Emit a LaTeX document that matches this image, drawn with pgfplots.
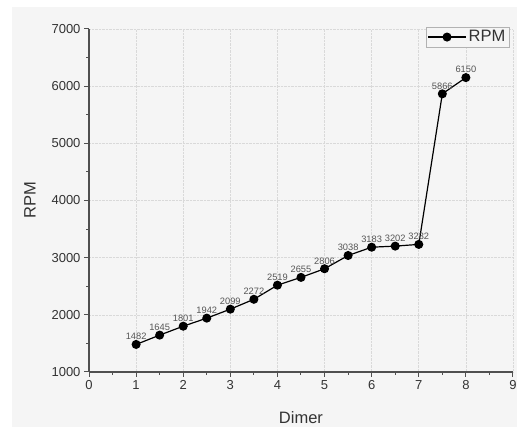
\documentclass[border=0pt]{standalone}
\usepackage{pgfplots}
\pgfplotsset{compat=1.18}
\usepackage{fontspec}
\setmainfont{Liberation Sans}
\definecolor{bg}{HTML}{F5F5F5}
\definecolor{axcol}{HTML}{505050}
\definecolor{txt}{HTML}{333333}
\definecolor{lbl}{HTML}{555555}
\begin{document}
\begin{tikzpicture}[x=1pt,y=1pt]
\useasboundingbox (0,0) rectangle (517,427);
\clip (0,0) rectangle (517,427);
\fill[white] (0,0) rectangle (517,427);
\fill[bg] (12,0) rectangle (517,420);
\begin{axis}[
  at={(89pt,55pt)}, anchor=south west,
  scale only axis, width=424pt, height=343pt,
  xmin=0, xmax=9, ymin=1000, ymax=7000,
  xtick={0,...,9}, ytick={1000,2000,...,7000},
  minor tick num=1,
  axis lines*=left,
  axis line style={draw=axcol, line width=1.1pt},
  tick style={draw=axcol, line width=1pt},
  tick align=outside,
  major tick length=5pt, minor tick length=3pt,
  grid=major,
  major grid style={densely dotted, gray!30, line width=0.6pt},
  ticklabel style={font=\fontsize{13}{13}\selectfont, text=txt},
  /pgf/number format/assume math mode=true,
  /pgf/number format/set thousands separator={},
  xlabel={Dimer}, ylabel={RPM},
  label style={font=\fontsize{16.5}{16.5}\selectfont, text=txt},
  xlabel style={at={(axis description cs:0.5,-0.1327)}, anchor=center},
  ylabel style={at={(axis description cs:-0.139,0.5)}, anchor=center, rotate=0},
  legend style={at={(rel axis cs:0.9906,1.006)}, anchor=north east,
    draw=gray!60, fill=bg, font=\fontsize{16.5}{16.5}\selectfont, text=txt,
    inner sep=1.5pt},
  legend image code/.code={\draw[mark repeat=2,mark phase=2,#1] plot coordinates {(0pt,0pt) (19pt,0pt) (38pt,0pt)};},
  clip=false,
]
\addplot[black, line width=1.2pt, mark=*, mark size=3.9pt,
  nodes near coords,
  point meta=explicit symbolic,
  every node near coord/.append style={font=\fontsize{9.3}{9.3}\selectfont, text=lbl, anchor=south, inner sep=0pt, yshift=4pt}]
  table[meta=lab] {
x y lab
1 1482 1482
1.5 1645 1645
2 1801 1801
2.5 1942 1942
3 2099 2099
3.5 2272 2272
4 2519 2519
4.5 2655 2655
5 2806 2806
5.5 3038 3038
6 3183 3183
6.5 3202 3202
7 3232 3232
7.5 5866 5866
8 6150 6150
};
\addlegendentry{RPM}
\end{axis}
\end{tikzpicture}
\end{document}
